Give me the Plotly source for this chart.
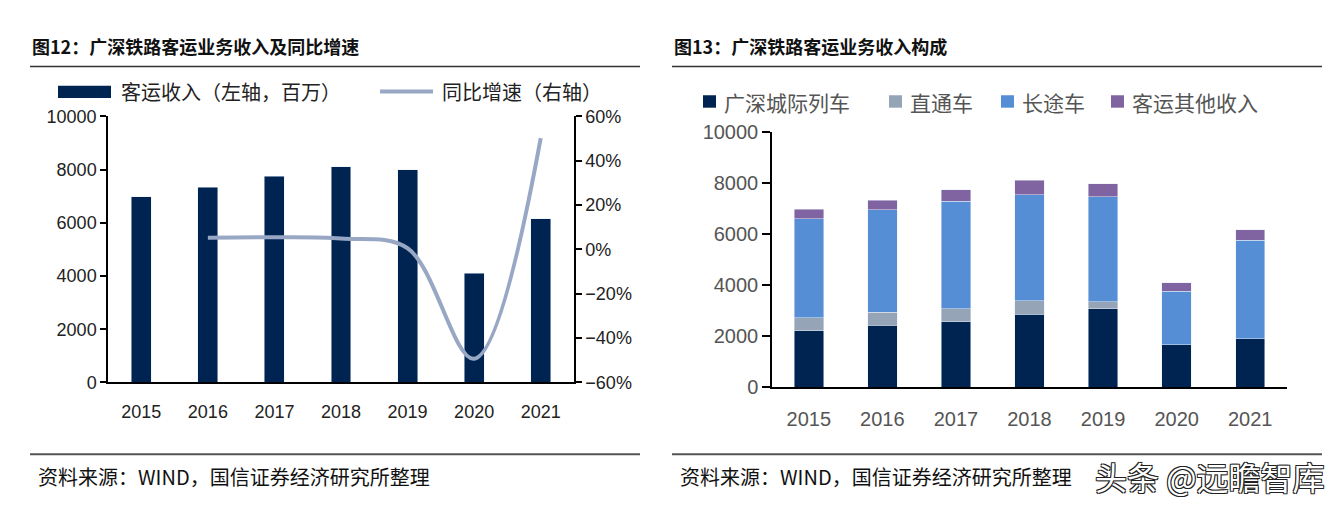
import plotly.graph_objects as go

years = ["2015", "2016", "2017", "2018", "2019", "2020", "2021"]

# Left chart: passenger revenue (million) and YoY growth (%)
revenue = [6970, 7340, 7740, 8110, 7990, 4100, 6150]
yoy = [None, 5.3, 5.5, 4.9, 0.5, -49.3, 50.2]

# Right chart: revenue composition
intercity = [2217, 2416, 2553, 2864, 3076, 1656, 1893]
through = [498, 511, 523, 511, 261, 0, 0]
longdist = [3885, 4009, 4209, 4159, 4110, 2092, 3860]
other = [361, 387, 448, 561, 523, 349, 399]

left_names = ["客运收入（左轴，百万）", "同比增速（右轴）"]
right_names = ["广深城际列车", "直通车", "长途车", "客运其他收入"]

NAVY = "#002452"
GREY = "#95a5b7"
BLUE = "#558ed5"
PURPLE = "#8064a2"
LINE = "#98a8c4"

W, H = 1342, 516
def px(x):
    return x / W
def py(y):
    return 1 - y / H

CJK = "Noto Sans CJK SC"
NUM = "Liberation Sans, Arial, sans-serif"

fig = go.Figure()

fig.add_trace(go.Bar(x=years, y=revenue, marker_color=NAVY, width=0.30,
                     xaxis="x", yaxis="y", showlegend=False, name=left_names[0]))
fig.add_trace(go.Scatter(x=years, y=yoy, mode="lines", line=dict(color=LINE, width=4, shape="spline", smoothing=1.0),
                         xaxis="x", yaxis="y2", showlegend=False, name=left_names[1]))

for vals, col, nm in zip([intercity, through, longdist, other], [NAVY, GREY, BLUE, PURPLE], right_names):
    fig.add_trace(go.Bar(x=years, y=vals, marker_color=col, width=0.4, xaxis="x3", yaxis="y3",
                         showlegend=False, name=nm))

axis_common = dict(showgrid=False, zeroline=False, showline=True, linecolor="black", linewidth=1.5)

fig.update_layout(
    width=W, height=H,
    margin=dict(l=0, r=0, t=0, b=0),
    paper_bgcolor="white", plot_bgcolor="white",
    barmode="stack",
    xaxis=dict(domain=[px(108), px(574)], anchor="y", type="category", ticks="", ticklabelstandoff=12,
               tickfont=dict(family=NUM, size=18, color="#222"), **axis_common),
    yaxis=dict(domain=[py(388), py(110)], anchor="x", range=[0, 10000], dtick=2000, tickformat="d",
               ticks="outside", ticklen=6, tickwidth=1.5, tickcolor="black",
               tickfont=dict(family=NUM, size=18, color="#222"), **axis_common),
    yaxis2=dict(overlaying="y", side="right", anchor="x", range=[-60, 60], dtick=20,
                ticksuffix="%", ticks="outside", ticklen=6, tickwidth=1.5, tickcolor="black",
                tickfont=dict(family=NUM, size=18, color="#222"), **axis_common),
    xaxis3=dict(domain=[px(772), px(1287)], anchor="y3", type="category", ticks="", ticklabelstandoff=13,
                tickfont=dict(family=NUM, size=20, color="#555"), **axis_common),
    yaxis3=dict(domain=[py(393), py(126)], anchor="x3", range=[0, 10000], dtick=2000, tickformat="d",
                ticks="outside", ticklen=8, tickwidth=1.5, tickcolor="black",
                tickfont=dict(family=NUM, size=20, color="#555"), **axis_common),
)

shapes = []
annotations = []

# Titles and rules
for x0, x1, title in [(30, 640, "图12：广深铁路客运业务收入及同比增速"), (672, 1322, "图13：广深铁路客运业务收入构成")]:
    annotations.append(dict(x=px(x0), y=py(37), xref="paper", yref="paper", xanchor="left", yanchor="middle",
                            text="<b>" + title + "</b>", showarrow=False,
                            font=dict(family=CJK, size=18, color="#111")))
    shapes.append(dict(type="line", xref="paper", yref="paper", x0=px(x0), x1=px(x1), y0=py(58), y1=py(58),
                       line=dict(color="#333", width=1.5)))
    shapes.append(dict(type="line", xref="paper", yref="paper", x0=px(x0), x1=px(x1), y0=py(463), y1=py(463),
                       line=dict(color="#555", width=2)))
    annotations.append(dict(x=px(x0 + 6), y=py(486), xref="paper", yref="paper", xanchor="left", yanchor="middle",
                            text="资料来源：WIND，国信证券经济研究所整理", showarrow=False,
                            font=dict(family=CJK, size=20, color="#111")))

# Left legend
shapes.append(dict(type="rect", xref="paper", yref="paper", x0=px(58), x1=px(111), y0=py(91), y1=py(78),
                   fillcolor=NAVY, line=dict(width=0)))
annotations.append(dict(x=px(119), y=py(84), xref="paper", yref="paper", xanchor="left", yanchor="middle",
                        text=left_names[0], showarrow=False, font=dict(family=CJK, size=20, color="#222")))
shapes.append(dict(type="line", xref="paper", yref="paper", x0=px(380), x1=px(433), y0=py(84), y1=py(84),
                   line=dict(color=LINE, width=4)))
annotations.append(dict(x=px(440), y=py(84), xref="paper", yref="paper", xanchor="left", yanchor="middle",
                        text=left_names[1], showarrow=False, font=dict(family=CJK, size=20, color="#222")))

# Right legend
for sx, col, nm in zip([703, 889, 1001, 1111], [NAVY, GREY, BLUE, PURPLE], right_names):
    shapes.append(dict(type="rect", xref="paper", yref="paper", x0=px(sx), x1=px(sx + 13), y0=py(101), y1=py(88),
                       fillcolor=col, line=dict(width=0)))
    annotations.append(dict(x=px(sx + 19), y=py(95), xref="paper", yref="paper", xanchor="left", yanchor="middle",
                            text=nm, showarrow=False, font=dict(family=CJK, size=21, color="#555")))

# Watermark
annotations.append(dict(x=px(1326), y=py(486), xref="paper", yref="paper", xanchor="right", yanchor="middle",
                        text="头条 @远瞻智库", showarrow=False,
                        font=dict(family=CJK, size=32, color="white",
                                  shadow="1px 1px 0 #222, -1px -1px 0 #222, 1px -1px 0 #222, -1px 1px 0 #222")))

fig.update_layout(shapes=shapes, annotations=annotations)

fig.write_html("out.html", config={"displayModeBar": False},
               post_script="document.body.style.margin='0';document.body.style.overflow='hidden';")
